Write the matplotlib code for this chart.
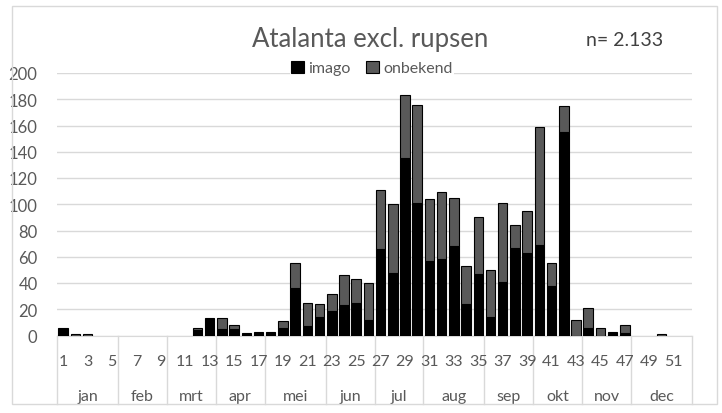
import matplotlib
matplotlib.use("Agg")
import matplotlib.pyplot as plt
import matplotlib.transforms as transforms
import numpy as np

plt.rcParams['font.family'] = ['Lato', 'DejaVu Sans']

weeks = np.arange(1, 53)
# counts per week (index 0 = week 1)
imago = np.array([6, 0, 0, 0, 0, 0, 0, 0, 0, 0,
                  0, 4, 13, 5, 5, 2, 3, 3, 6, 36,
                  7, 14, 19, 23, 25, 12, 66, 48, 135, 101,
                  57, 58, 68, 24, 47, 14, 41, 67, 63, 69,
                  38, 155, 0, 6, 0, 3, 2, 0, 0, 0,
                  0, 0])
onbekend = np.array([0, 1, 1, 0, 0, 0, 0, 0, 0, 0,
                     0, 2, 0, 8, 3, 0, 0, 0, 5, 19,
                     18, 10, 13, 23, 18, 28, 45, 52, 48, 75,
                     47, 51, 37, 29, 43, 36, 60, 17, 32, 90,
                     17, 20, 12, 15, 6, 0, 6, 0, 0, 1,
                     0, 0])
months = ["jan", "feb", "mrt", "apr", "mei", "jun", "jul", "aug", "sep", "okt", "nov", "dec"]
month_last_week = [5, 9, 13, 17, 22, 26, 30, 35, 39, 43, 47, 52]
title = "Atalanta excl. rupsen"
n_text = "n= 2.133"

txt_c = "#595959"
grid_c = "#d9d9d9"

fig = plt.figure(figsize=(7.22, 4.14), dpi=100)
ax = fig.add_axes([57 / 722, 1 - 336.5 / 414, 635 / 722, 262.5 / 414])

m = imago > 0
ax.bar(weeks[m], imago[m], width=0.78, color="black", edgecolor="black", lw=0.8, label="imago", zorder=3)
m = onbekend > 0
ax.bar(weeks[m], onbekend[m], bottom=imago[m], width=0.78, color="#595959", edgecolor="black", lw=0.8,
       label="onbekend", zorder=3)

ax.set_xlim(0.5, 52.5)
ax.set_ylim(0, 200)
ax.set_yticks(range(0, 201, 20))
ax.yaxis.grid(True, color=grid_c, lw=1)
ax.set_axisbelow(True)
for s in ["top", "right", "left"]:
    ax.spines[s].set_visible(False)
ax.spines["bottom"].set_color(grid_c)
ax.tick_params(axis="y", length=0, pad=14, labelsize=12, labelcolor=txt_c)
ax.set_xticks([])

# multi-level category axis
trans = transforms.blended_transform_factory(ax.transData, ax.transAxes)
for w in range(1, 53, 2):
    ax.text(w, -0.099, str(w), transform=trans, ha="center", va="center", fontsize=11.5, color=txt_c)
bounds = [0] + month_last_week
for i, name in enumerate(months):
    ax.text((bounds[i] + bounds[i + 1]) / 2 + 0.5, -0.229, name, transform=trans,
            ha="center", va="center", fontsize=11.5, color=txt_c)
for b in bounds:
    ax.plot([b + 0.5, b + 0.5], [0, -0.261], transform=trans, color=grid_c, lw=1, clip_on=False)

fig.text(370 / 722, 1 - 40 / 414, title, ha="center", va="center", fontsize=18.5, color=txt_c)
fig.text(625 / 722, 1 - 41 / 414, n_text, ha="center", va="center", fontsize=14, color="#404040")

leg = ax.legend(loc="center", bbox_to_anchor=(372 / 722, 1 - 69 / 414), bbox_transform=fig.transFigure,
                ncol=2, frameon=True, fontsize=11.5, handlelength=0.8, handleheight=0.8,
                handletextpad=0.25, columnspacing=1.0, borderpad=0.1, labelcolor=txt_c)
leg.get_frame().set_edgecolor("none")
leg.get_frame().set_facecolor("white")
leg.get_frame().set_alpha(1)

# chart area border
fig.patches.append(plt.Rectangle((12 / 722, 1 - 405 / 414), 705 / 722, 398 / 414, transform=fig.transFigure,
                                 fill=False, edgecolor=grid_c, lw=1))

fig.savefig("out.png", dpi=100)
